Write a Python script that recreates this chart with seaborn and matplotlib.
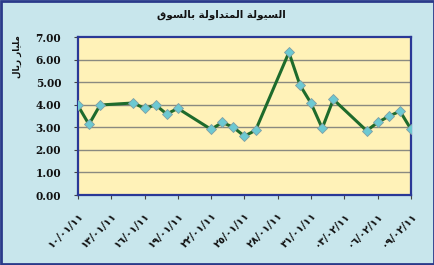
import matplotlib
matplotlib.use("Agg")
import matplotlib.pyplot as plt
import matplotlib.patches as mpatches
import seaborn as sns
import pandas as pd

# ---- data ----
dates = ["2011-01-10", "2011-01-11", "2011-01-12", "2011-01-15", "2011-01-16",
         "2011-01-17", "2011-01-18", "2011-01-19", "2011-01-22", "2011-01-23",
         "2011-01-24", "2011-01-25", "2011-01-26", "2011-01-29", "2011-01-30",
         "2011-01-31", "2011-02-01", "2011-02-02", "2011-02-05", "2011-02-06",
         "2011-02-07", "2011-02-08", "2011-02-09"]
liquidity = [3.97, 3.13, 3.99, 4.08, 3.84, 3.99, 3.59, 3.84, 2.91, 3.22,
             3.00, 2.61, 2.87, 6.32, 4.87, 4.06, 2.96, 4.24, 2.85, 3.22,
             3.49, 3.72, 2.91]
tick_dates = ["2011-01-10", "2011-01-13", "2011-01-16", "2011-01-19", "2011-01-22",
              "2011-01-25", "2011-01-28", "2011-01-31", "2011-02-03", "2011-02-06",
              "2011-02-09"]
tick_labels = ["١٠/٠١/١١", "١٣/٠١/١١", "١٦/٠١/١١", "١٩/٠١/١١", "٢٢/٠١/١١",
               "٢٥/٠١/١١", "٢٨/٠١/١١", "٣١/٠١/١١", "٠٣/٠٢/١١", "٠٦/٠٢/١١",
               "٠٩/٠٢/١١"]
y_ticks = [0, 1, 2, 3, 4, 5, 6, 7]
# Title "السيولة المتداولة بالسوق" and axis label "مليار ريال",
# written in Arabic presentation forms, visual order
title_text = ("\uFED5\uFEEE\uFEB4\uFEDF\uFE8E\uFE91" + " " +
              "\uFE94\uFEDF\uFEED\uFE8D\uFEAA\uFE98\uFEE4\uFEDF\uFE8D" + " " +
              "\uFE94\uFEDF\uFEEE\uFEF4\uFEB4\uFEDF\uFE8D")
ylabel_text = ("\uFEDD\uFE8E\uFEF3\uFEAD" + " " +
               "\uFEAD\uFE8E\uFEF4\uFEE0\uFEE3")

df = pd.DataFrame({"date": pd.to_datetime(dates), "value": liquidity})

BG = "#c8e6ec"
PLOT_BG = "#fff2b8"
FRAME = "#2a3896"
GREEN = "#1e6b2c"
CYAN = "#6cc9d2"

sns.set_theme(style="white")
fig = plt.figure(figsize=(4.35, 2.65), dpi=100, facecolor=BG)
ax = fig.add_axes([0.179, 0.264, 0.766, 0.596])
ax.set_facecolor(PLOT_BG)

for v in y_ticks[1:-1]:
    ax.axhline(v, color="#8a8a80", lw=1.0, zorder=1)

sns.lineplot(data=df, x="date", y="value", ax=ax, color=GREEN, lw=2.2,
             marker="D", markersize=5.5, markerfacecolor=CYAN,
             markeredgecolor="#7f9ea4", markeredgewidth=0.6, zorder=3)

ax.set_xlim(pd.Timestamp(tick_dates[0]), pd.Timestamp(tick_dates[-1]))
ax.set_ylim(0, 7)
ax.set_yticks(y_ticks)
ax.set_yticklabels([f"{v:.2f}" for v in y_ticks], family="DejaVu Serif",
                   fontweight="bold", fontsize=7.6, color="#111111")
ax.set_xticks(pd.to_datetime(tick_dates))
ax.set_xticklabels(tick_labels, rotation=45, ha="right", rotation_mode="anchor",
                   family="DejaVu Sans", fontweight="bold", fontsize=7.5, color="#111111")
ax.tick_params(axis="both", which="both", direction="out", length=3, width=0.8,
               color="#444444", left=True, bottom=True)
ax.tick_params(axis="x", pad=8)
ax.tick_params(axis="y", pad=9)
ax.set_xlabel("")
ax.set_ylabel("")
for s in ax.spines.values():
    s.set_color(FRAME)
    s.set_linewidth(1.6)

fig.text(0.508, 0.943, title_text, ha="center", va="center", fontsize=7.5,
         fontweight="bold", family="DejaVu Sans", color="#111111")
fig.text(0.040, 0.785, ylabel_text, ha="center", va="center", rotation=90,
         fontsize=6.3, fontweight="bold", family="DejaVu Sans", color="#111111")

fig.patches.append(mpatches.Rectangle((0.002, 0.003), 0.995, 0.993,
                                      transform=fig.transFigure, fill=False,
                                      edgecolor="#2a3a8a", lw=2.0))

fig.savefig("out.png", dpi=100, facecolor=BG)
